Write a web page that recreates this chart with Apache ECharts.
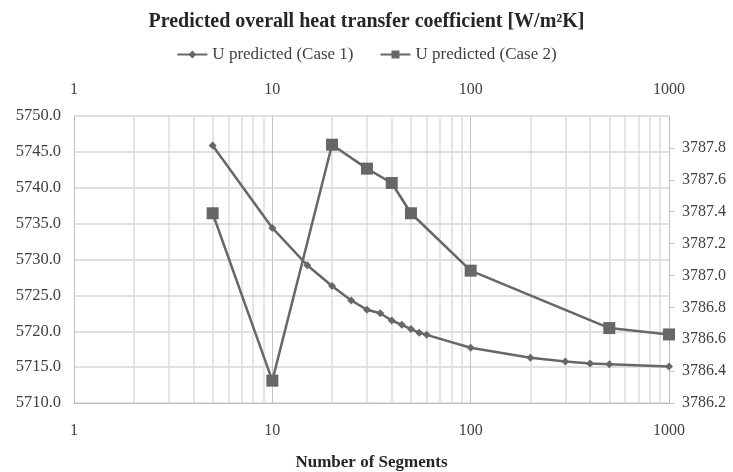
<!DOCTYPE html>
<html>
<head>
<meta charset="utf-8">
<script src="https://cdn.jsdelivr.net/npm/echarts@6/dist/echarts.min.js"></script>
<style>
  html, body { margin: 0; padding: 0; background: #fff; }
  #chart { width: 733px; height: 472px; }
</style>
</head>
<body>
<div id="chart"></div>
<script>
// Number of segments (log scale) and predicted U for the two cases
var segmentsCase1 = [5, 10, 15, 20, 25, 30, 35, 40, 45, 50, 55, 60, 100, 200, 300, 400, 500, 1000];
var uCase1 = [5745.9, 5734.4, 5729.2, 5726.3, 5724.3, 5723.0, 5722.5, 5721.5, 5720.9, 5720.3, 5719.8, 5719.5, 5717.7, 5716.3, 5715.8, 5715.5, 5715.4, 5715.1];

var segmentsCase2 = [5, 10, 20, 30, 40, 50, 100, 500, 1000];
var uCase2 = [3787.39, 3786.34, 3787.82, 3787.67, 3787.58, 3787.39, 3787.03, 3786.67, 3786.63];

// Intermediate log-scale grid positions (2..9 within each decade)
var minorGrid = [2, 3, 4, 5, 6, 7, 8, 9, 20, 30, 40, 50, 60, 70, 80, 90, 200, 300, 400, 500, 600, 700, 800, 900];

var FONT = '"Liberation Serif", "Times New Roman", serif';
var LINE = '#676767';

function pairs(xs, ys) {
  return xs.map(function (x, i) { return [x, ys[i]]; });
}

var chart = echarts.init(document.getElementById('chart'));

var option = {
  backgroundColor: '#fff',
  animation: false,
  textStyle: { fontFamily: FONT, color: '#404040' },
  title: {
    text: 'Predicted overall heat transfer coefficient [W/m²K]',
    left: 'center',
    top: 7,
    textStyle: { fontFamily: FONT, fontSize: 20, fontWeight: 'bold', color: '#262626' }
  },
  legend: {
    top: 41,
    left: 'center',
    itemWidth: 30,
    itemHeight: 10,
    itemGap: 26,
    textStyle: { fontFamily: FONT, fontSize: 17, color: '#404040' },
    data: ['U predicted (Case 1)', 'U predicted (Case 2)']
  },
  grid: { left: 74, right: 64, top: 116, bottom: 69, containLabel: false, outerBoundsMode: 'none' },
  xAxis: [
    {
      type: 'log', logBase: 10, min: 1, max: 1000, position: 'bottom',
      name: 'Number of Segments', nameLocation: 'middle', nameGap: 51,
      nameTextStyle: { fontFamily: FONT, fontSize: 17, fontWeight: 'bold', color: '#262626' },
      axisLine: { show: true, lineStyle: { color: '#bfbfbf' } },
      axisTick: { show: false },
      axisLabel: { fontFamily: FONT, fontSize: 16, color: '#404040', margin: 20,
        formatter: function (v) { return String(v); } },
      splitLine: { show: true, lineStyle: { color: '#c4c4c4', width: 1 } }
    },
    {
      type: 'log', logBase: 10, min: 1, max: 1000, position: 'top',
      axisLine: { show: false },
      axisTick: { show: false },
      axisLabel: { fontFamily: FONT, fontSize: 16, color: '#404040', margin: 18,
        formatter: function (v) { return String(v); } },
      splitLine: { show: false }
    }
  ],
  yAxis: [
    {
      type: 'value', min: 5710, max: 5750, interval: 5, position: 'left',
      axisLine: { show: true, lineStyle: { color: '#bfbfbf' } },
      axisTick: { show: false },
      axisLabel: { fontFamily: FONT, fontSize: 16.5, color: '#404040', margin: 13,
        formatter: function (v) { return v.toFixed(1); } },
      splitLine: { show: true, lineStyle: { color: '#d6d6d6', width: 1.5 } }
    },
    {
      type: 'value', min: 3786.2, max: 3788.0, interval: 0.2, position: 'right',
      axisLine: { show: true, lineStyle: { color: '#bfbfbf' } },
      axisTick: { show: true, length: 5, lineStyle: { color: '#bfbfbf' } },
      axisLabel: { fontFamily: FONT, fontSize: 16, color: '#404040', margin: 13,
        showMaxLabel: false,
        formatter: function (v) { return v.toFixed(1); } },
      splitLine: { show: false }
    }
  ],
  series: [
    {
      name: 'grid', type: 'line', data: [], xAxisIndex: 0, yAxisIndex: 0, z: 0,
      silent: true,
      markLine: {
        silent: true, symbol: 'none', animation: false, z: 0,
        label: { show: false },
        lineStyle: { color: '#dcdcdc', type: 'solid', width: 1.5 },
        data: minorGrid.map(function (v) { return { xAxis: v }; })
      }
    },
    {
      name: 'U predicted (Case 1)', type: 'line',
      xAxisIndex: 0, yAxisIndex: 0, z: 3,
      data: pairs(segmentsCase1, uCase1),
      symbol: 'diamond', symbolSize: 8,
      lineStyle: { color: LINE, width: 2.5 },
      itemStyle: { color: LINE, borderWidth: 0 }
    },
    {
      name: 'U predicted (Case 2)', type: 'line',
      xAxisIndex: 1, yAxisIndex: 1, z: 3,
      data: pairs(segmentsCase2, uCase2),
      symbol: 'rect', symbolSize: 12,
      lineStyle: { color: LINE, width: 2.5 },
      itemStyle: { color: LINE, borderWidth: 0 }
    }
  ]
};

chart.setOption(option);
</script>
</body>
</html>
